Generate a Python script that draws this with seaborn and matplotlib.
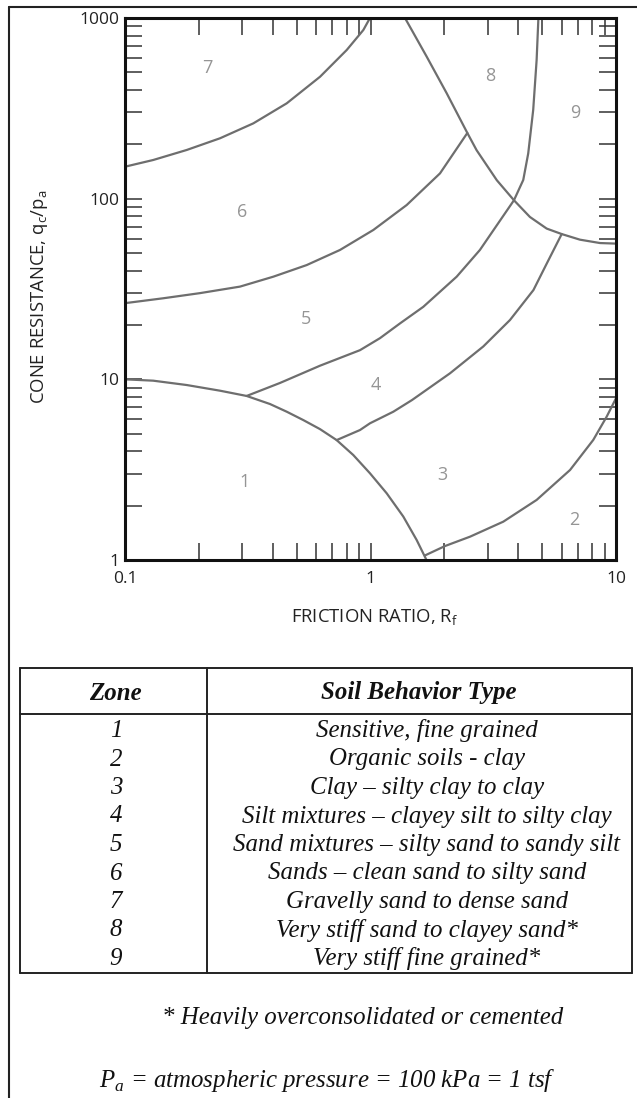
import numpy as np
import pandas as pd
import matplotlib
matplotlib.use('Agg')
import matplotlib.pyplot as plt
from matplotlib.lines import Line2D
from matplotlib.ticker import LogLocator, NullFormatter, FixedLocator, FixedFormatter
import seaborn as sns

# Confini delle zone (Rf in %, qc/pa)
b1_x = [0.1, 0.1303, 0.1784, 0.244, 0.313, 0.3896, 0.4557, 0.5324, 0.623, 0.728,
        0.851, 0.995, 1.164, 1.36, 1.542, 1.667, 1.69]
b1_y = [10.0, 9.83, 9.30, 8.65, 8.09, 7.30, 6.62, 5.95, 5.30, 4.61,
        3.81, 3.02, 2.34, 1.74, 1.29, 1.04, 1.0]

b54_x = [0.313, 0.428, 0.623, 0.906, 1.093, 1.319, 1.641, 2.244, 2.79, 3.84,
         4.19, 4.39, 4.60, 4.75, 4.83]
b54_y = [8.09, 9.55, 11.9, 14.5, 16.9, 20.4, 25.2, 37.0, 52.0, 98,
         126.9, 178, 310, 586, 1000]

b43_x = [0.728, 0.906, 0.995, 1.239, 1.476, 2.108, 2.88, 3.70, 4.61, 5.19, 6.01]
b43_y = [4.61, 5.24, 5.71, 6.62, 7.68, 10.8, 15.2, 21.3, 31.2, 43.0, 63.7]

b32_x = [1.667, 2.012, 2.543, 3.475, 4.75, 6.50, 8.08, 9.16, 10]
b32_y = [1.06, 1.195, 1.346, 1.63, 2.15, 3.15, 4.62, 6.21, 7.85]

b65_x = [0.1, 0.1432, 0.202, 0.294, 0.402, 0.5496, 0.751, 1.027, 1.404, 1.919, 2.48]
b65_y = [26.4, 28.1, 30.0, 32.6, 37.0, 42.9, 52.0, 67.1, 92.2, 138, 231]

b76_x = [0.1, 0.1303, 0.1784, 0.244, 0.333, 0.4557, 0.623, 0.80, 0.935, 0.995]
b76_y = [150.3, 163.7, 186, 216, 261, 337, 473, 665, 858, 1000]

b8_x = [1.382, 1.694, 2.044, 2.48, 2.705, 3.27, 3.84, 4.46, 5.22, 6.01, 7.13, 8.61, 10]
b8_y = [1000, 611, 383, 231, 185.5, 126.5, 98, 79.2, 68.3, 63.7, 59.3, 56.8, 56.4]

curve_x = [b1_x, b54_x, b43_x, b32_x, b65_x, b76_x, b8_x]
curve_y = [b1_y, b54_y, b43_y, b32_y, b65_y, b76_y, b8_y]

# Etichette delle zone sul grafico
zona_lab = ['1', '2', '3', '4', '5', '6', '7', '8', '9']
zona_x = [0.306, 6.75, 1.96, 1.055, 0.548, 0.300, 0.216, 3.08, 6.85]
zona_y = [2.70, 1.66, 2.94, 9.3, 21.7, 84.8, 530, 475, 298]

x_ticks = [0.1, 1, 10]
x_labels = ['0.1', '1', '10']
y_ticks = [1, 10, 100, 1000]
y_labels = ['1', '10', '100', '1000']

# Tabella
zone = ['1', '2', '3', '4', '5', '6', '7', '8', '9']
tipi = ['Sensitive, fine grained',
        'Organic soils - clay',
        'Clay \u2013 silty clay to clay',
        'Silt mixtures \u2013 clayey silt to silty clay',
        'Sand mixtures \u2013 silty sand to sandy silt',
        'Sands \u2013 clean sand to silty sand',
        'Gravelly sand to dense sand',
        'Very stiff sand to clayey sand*',
        'Very stiff fine grained*']

sns.set_theme(style='ticks')
plt.rcParams['font.family'] = ['Open Sans', 'DejaVu Sans']

W, H = 637, 1098
fx = lambda px: px / W
fy = lambda py: 1 - py / H

fig = plt.figure(figsize=(W / 100, H / 100), dpi=100)
ax = fig.add_axes([fx(125), fy(560), (616 - 125) / W, (560 - 18) / H])

for xs, ys in zip(curve_x, curve_y):
    sns.lineplot(x=xs, y=ys, sort=False, estimator=None, color='#6e6e6e', linewidth=1.6, ax=ax)

for lab, x, y in zip(zona_lab, zona_x, zona_y):
    ax.text(x, y, lab, color='#959595', fontsize=13, ha='center', va='center')

ax.set_xscale('log')
ax.set_yscale('log')
ax.set_xlim(0.1, 10)
ax.set_ylim(1, 1000)
ax.xaxis.set_major_locator(FixedLocator(x_ticks))
ax.xaxis.set_major_formatter(FixedFormatter(x_labels))
ax.yaxis.set_major_locator(FixedLocator(y_ticks))
ax.yaxis.set_major_formatter(FixedFormatter(y_labels))
ax.xaxis.set_minor_locator(LogLocator(base=10, subs=np.arange(2, 10)))
ax.yaxis.set_minor_locator(LogLocator(base=10, subs=np.arange(2, 10)))
ax.xaxis.set_minor_formatter(NullFormatter())
ax.yaxis.set_minor_formatter(NullFormatter())
ax.tick_params(which='both', direction='in', top=True, right=True, length=12,
               width=1.1, color='#333333', labelsize=12.5, labelcolor='#222222')
ax.tick_params(axis='x', which='major', pad=8)
ax.tick_params(axis='y', which='major', pad=4)
for sp in ax.spines.values():
    sp.set_linewidth(2.2)
    sp.set_color('#111111')

ax.set_xlabel(r'FRICTION RATIO, R$_\mathregular{f}$', fontsize=13.3, color='#222222')
ax.set_ylabel(r'CONE RESISTANCE, q$_\mathregular{c}$/p$_\mathregular{a}$', fontsize=13.3, color='#222222')
ax.xaxis.set_label_coords((375 - 125) / 491, (560 - 617) / 542)
ax.yaxis.set_label_coords((40 - 125) / 491, (560 - 297) / 542)
ax.xaxis.label.set_va('center')
ax.yaxis.label.set_va('center')

# Cornice esterna
lc = '#222222'
fig.add_artist(Line2D([fx(9), fx(637)], [fy(7), fy(7)], color=lc, lw=1.5, transform=fig.transFigure))
fig.add_artist(Line2D([fx(9), fx(9)], [fy(7), fy(1098)], color=lc, lw=1.5, transform=fig.transFigure))

# Tabella delle zone
L, R, D = 20, 632, 207
T, HB, B = 668, 714, 973
for y in [T, HB, B]:
    fig.add_artist(Line2D([fx(L), fx(R)], [fy(y), fy(y)], color=lc, lw=1.4, transform=fig.transFigure))
for x in [L, D, R]:
    fig.add_artist(Line2D([fx(x), fx(x)], [fy(T), fy(B)], color=lc, lw=1.4, transform=fig.transFigure))

serif = 'Liberation Serif'
fs = 17.9
fig.text(fx(115), fy(693), 'Zone', family=serif, style='italic', weight='bold',
         fontsize=fs, ha='center', va='center', color='#111111')
fig.text(fx(419), fy(693), 'Soil Behavior Type', family=serif, style='italic', weight='bold',
         fontsize=fs, ha='center', va='center', color='#111111')
for i, (z, t) in enumerate(zip(zone, tipi)):
    y = 731 + i * 28.5
    fig.text(fx(116), fy(y), z, family=serif, style='italic', fontsize=fs,
             ha='center', va='center', color='#111111')
    fig.text(fx(427), fy(y), t, family=serif, style='italic', fontsize=fs,
             ha='center', va='center', color='#111111')

fig.text(fx(363), fy(1018), '* Heavily overconsolidated or cemented', family=serif,
         style='italic', fontsize=fs, ha='center', va='center', color='#111111')
fig.text(fx(327), fy(1080), r'P$_\mathregular{a}$ = atmospheric pressure = 100 kPa = 1 tsf',
         family=serif, style='italic', fontsize=fs, ha='center', va='center', color='#111111')

fig.savefig('out.png', dpi=100)
